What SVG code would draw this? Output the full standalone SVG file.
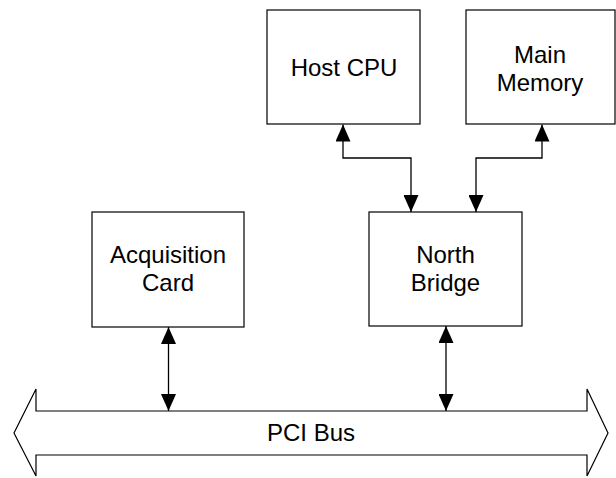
<svg xmlns="http://www.w3.org/2000/svg" width="616" height="478" viewBox="0 0 616 478">
<defs>
<style>
.box{fill:#fff;stroke:#000;stroke-width:1.2}
.lbl{font-family:"Liberation Sans",Arial,sans-serif;font-size:24px;fill:#000;text-anchor:middle}
.con{fill:none;stroke:#000;stroke-width:1.3}
</style>
<marker id="ah" markerUnits="userSpaceOnUse" markerWidth="17" markerHeight="15" viewBox="0 0 17 15" refX="17" refY="7.5" orient="auto-start-reverse">
<path d="M0,0 L17,7.5 L0,15 z" fill="#000"/>
</marker>
</defs>
<rect width="616" height="478" fill="#fff"/>
<g id="host-cpu">
<rect class="box" x="267" y="10" width="153" height="114"/>
<text class="lbl" x="344" y="76">Host CPU</text>
</g>
<g id="main-memory">
<rect class="box" x="466" y="10" width="149" height="114"/>
<text class="lbl" x="540" y="63">Main</text>
<text class="lbl" x="540" y="91">Memory</text>
</g>
<g id="acquisition-card">
<rect class="box" x="92" y="212" width="152" height="115"/>
<text class="lbl" x="168" y="263">Acquisition</text>
<text class="lbl" x="168" y="291">Card</text>
</g>
<g id="north-bridge">
<rect class="box" x="369" y="212" width="153" height="114"/>
<text class="lbl" x="445.5" y="263">North</text>
<text class="lbl" x="445.5" y="291">Bridge</text>
</g>
<g id="pci-bus">
<polygon class="box" points="14,433 36,389 36,411 587,411 587,389 608,433 587,476 587,455 36,455 36,476"/>
<text class="lbl" x="311" y="441">PCI Bus</text>
</g>
<g id="connectors">
<path class="con" d="M343,124.5 V158 H411 V212" marker-start="url(#ah)" marker-end="url(#ah)"/>
<path class="con" d="M542,124.5 V158 H476 V212" marker-start="url(#ah)" marker-end="url(#ah)"/>
<path class="con" d="M168.5,327 V411" marker-start="url(#ah)" marker-end="url(#ah)"/>
<path class="con" d="M446,326 V411" marker-start="url(#ah)" marker-end="url(#ah)"/>
</g>
</svg>
